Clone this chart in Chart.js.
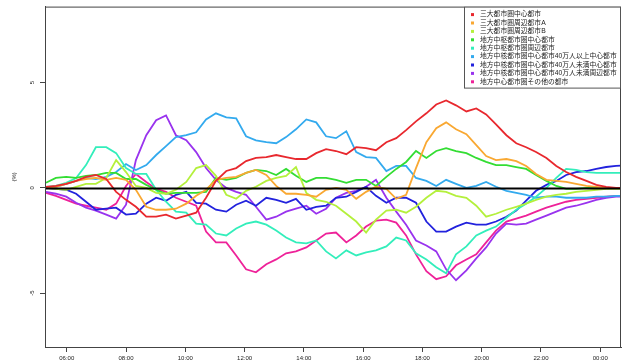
<!DOCTYPE html>
<html>
<head>
<meta charset="utf-8">
<script src="https://cdn.jsdelivr.net/npm/chart.js@4"></script>
<style>
  html, body { margin: 0; padding: 0; background: #fff; }
  #wrap { width: 625px; height: 362px; }
</style>
</head>
<body>
<div id="wrap"><canvas id="chart"></canvas></div>
<script>
const FONT = '"Liberation Sans", "Noto Sans CJK JP", sans-serif';

// sample times, minutes after 00:00
const times = [318, 338, 359, 379, 399, 419, 440, 460, 480, 500,
  521, 541, 561, 581, 602, 622, 642, 662, 683, 703,
  723, 743, 764, 784, 804, 824, 845, 865, 885, 905,
  926, 946, 966, 986, 1007, 1027, 1047, 1067, 1088, 1108,
  1128, 1148, 1169, 1189, 1209, 1229, 1250, 1270, 1290, 1310,
  1331, 1351, 1371, 1391, 1412, 1432, 1452, 1472, 1482];

const xTicks = [360, 480, 600, 720, 840, 960, 1080, 1200, 1320, 1440];
const xTickLabels = ['06:00', '08:00', '10:00', '12:00', '14:00', '16:00', '18:00', '20:00', '22:00', '00:00'];
const yTicks = [-5, 0, 5];
const yTickLabels = ['-5', '0', '5'];

const seriesNames = [
  '三大都市圏中心都市',
  '三大都市圏周辺都市A',
  '三大都市圏周辺都市B',
  '地方中枢都市圏中心都市',
  '地方中枢都市圏周辺都市',
  '地方中核都市圏中心都市40万人以上中心都市',
  '地方中核都市圏中心都市40万人未満中心都市',
  '地方中核都市圏中心都市40万人未満周辺都市',
  '地方中心都市圏その他の都市'
];
const seriesColors = ['#e8282e', '#f9a832', '#b4f03c', '#33dd33', '#33eebb', '#33aaee', '#2222dd', '#9933ee', '#ee2299'];

// values in %
const bigCore = [0.05, 0.09, 0.19, 0.33, 0.52, 0.61, 0.42, -0.19, -0.57, -0.90,
  -1.37, -1.37, -1.27, -1.46, -1.32, -1.18, -0.47, 0.33, 0.80, 0.94,
  1.27, 1.42, 1.46, 1.56, 1.46, 1.37, 1.37, 1.65, 1.84, 1.75,
  1.60, 1.93, 1.89, 1.79, 2.17, 2.36, 2.74, 3.16, 3.54, 3.96,
  4.15, 3.92, 3.63, 3.77, 3.49, 3.02, 2.50, 2.12, 1.93, 1.70,
  1.42, 1.04, 0.75, 0.52, 0.33, 0.14, 0.05, 0, 0];
const bigSubA = [0, 0.05, 0.19, 0.33, 0.42, 0.47, 0.38, 0.47, 0.38, -0.09,
  -0.90, -1.04, -1.04, -0.99, -0.75, -0.38, -0.09, 0.38, 0.47, 0.52,
  0.71, 0.85, 0.61, 0.09, -0.28, -0.28, -0.33, -0.42, -0.09, 0,
  -0.09, -0.52, -0.19, 0.05, -0.05, -0.52, -0.33, 0.94, 2.17, 2.83,
  3.11, 2.78, 2.55, 2.03, 1.51, 1.32, 1.37, 1.27, 1.04, 0.66,
  0.38, 0.33, 0.28, 0.19, 0.09, 0.05, 0, 0, 0];
const bigSubB = [0, -0.05, -0.09, 0.05, 0.19, 0.19, 0.47, 1.32, 0.75, 0.09,
  0, -0.24, -0.28, -0.09, 0.28, 0.94, 1.08, 0.57, -0.33, -0.52,
  -0.14, 0.05, 0.33, 0.47, 0.57, 0.99, -0.24, -0.57, -0.66, -0.85,
  -1.23, -1.60, -2.12, -1.51, -1.08, -1.04, -1.18, -0.90, -0.47, -0.14,
  -0.19, -0.38, -0.47, -0.85, -1.37, -1.23, -1.04, -0.90, -0.75, -0.57,
  -0.42, -0.33, -0.28, -0.19, -0.14, -0.09, -0.05, -0.05, -0.05];
const hubCore = [0.24, 0.47, 0.52, 0.47, 0.57, 0.61, 0.71, 0.71, 0.42, 0.42,
  0.14, -0.09, -0.28, -0.24, -0.24, -0.24, -0.19, 0.47, 0.38, 0.47,
  0.71, 0.85, 0.80, 0.61, 0.90, 0.57, 0.28, 0.47, 0.47, 0.38,
  0.24, 0.38, 0.38, 0.09, 0.52, 0.90, 1.23, 1.75, 1.42, 1.75,
  1.89, 1.75, 1.65, 1.42, 1.23, 1.08, 1.08, 0.99, 0.90, 0.61,
  0.33, 0.09, -0.05, -0.05, 0, 0, 0, 0, 0];
const hubSub = [0.05, 0.09, 0.24, 0.47, 1.08, 1.93, 1.93, 1.65, 0.94, 0.66,
  0.66, -0.09, -0.66, -1.13, -1.18, -1.70, -1.75, -2.17, -2.26, -1.93,
  -1.70, -1.60, -1.75, -2.03, -2.36, -2.59, -2.64, -2.50, -3.02, -3.35,
  -2.97, -3.21, -3.07, -2.97, -2.78, -2.36, -2.50, -3.11, -3.40, -3.77,
  -4.06, -3.16, -2.78, -2.26, -2.03, -1.84, -1.42, -1.04, -0.75, -0.42,
  0, 0.47, 0.90, 0.85, 0.75, 0.71, 0.71, 0.71, 0.71];
const midCoreLarge = [0, 0.05, 0.19, 0.33, 0.47, 0.42, 0.52, 0.75, 1.13, 0.85,
  1.08, 1.56, 1.98, 2.41, 2.50, 2.64, 3.25, 3.54, 3.35, 3.30,
  2.45, 2.26, 2.17, 2.12, 2.41, 2.78, 3.25, 3.11, 2.45, 2.36,
  2.69, 1.70, 1.46, 1.42, 0.80, 1.04, 1.04, 0.47, 0.33, 0.09,
  0.38, 0.19, 0, 0.09, 0.28, 0.05, -0.14, -0.24, -0.33, -0.47,
  -0.42, -0.42, -0.47, -0.47, -0.47, -0.42, -0.42, -0.38, -0.38];
const midCoreSmall = [0, -0.05, -0.09, -0.28, -0.66, -1.04, -0.99, -0.94, -1.27, -1.23,
  -0.75, -0.47, -0.61, -0.33, -0.19, -0.71, -0.75, -1.04, -1.13, -0.80,
  -0.61, -0.85, -0.47, -0.57, -0.71, -0.52, -1.04, -0.90, -0.85, -0.47,
  -0.42, -0.19, 0.05, -0.38, -0.71, -0.47, -0.47, -0.71, -1.60, -2.08,
  -2.08, -1.84, -1.65, -1.75, -1.75, -1.60, -1.37, -1.08, -0.61, -0.14,
  0.14, 0.33, 0.61, 0.75, 0.80, 0.90, 0.99, 1.04, 1.06];
const midSubSmall = [-0.19, -0.28, -0.42, -0.71, -0.94, -1.08, -1.27, -1.46, -0.80, 1.32,
  2.50, 3.21, 3.44, 2.50, 2.26, 1.70, 0.94, 0.38, 0, -0.19,
  -0.33, -0.90, -1.51, -1.37, -1.13, -0.99, -0.85, -1.23, -0.99, -0.47,
  -0.24, -0.14, 0.05, 0.38, -0.47, -1.13, -1.75, -2.50, -2.74, -3.02,
  -3.87, -4.39, -3.92, -3.35, -2.83, -2.17, -1.70, -1.75, -1.70, -1.51,
  -1.32, -1.13, -0.94, -0.85, -0.71, -0.57, -0.47, -0.42, -0.42];
const localOther = [-0.24, -0.38, -0.57, -0.75, -0.85, -0.94, -1.04, -0.75, 0.09, 0.66,
  0.28, -0.05, -0.19, -0.47, -0.66, -0.85, -2.08, -2.59, -2.59, -3.21,
  -3.87, -4.01, -3.63, -3.40, -3.11, -3.02, -2.83, -2.50, -2.17, -2.12,
  -2.59, -2.26, -1.84, -1.56, -1.51, -1.65, -2.26, -3.16, -3.96, -4.34,
  -4.20, -3.68, -3.40, -3.16, -2.59, -2.03, -1.60, -1.46, -1.32, -1.13,
  -0.94, -0.80, -0.66, -0.57, -0.52, -0.47, -0.42, -0.38, -0.38];

const seriesValues = [bigCore, bigSubA, bigSubB, hubCore, hubSub, midCoreLarge, midCoreSmall, midSubSmall, localOther];

// zero line, frame, rotated y labels and the boxed legend
const extras = {
  id: 'extras',
  afterDatasetsDraw(chart) {
    const { ctx, chartArea: a, scales: { y } } = chart;
    const y0 = Math.round(y.getPixelForValue(0)) + 0.5;
    ctx.save();
    ctx.strokeStyle = '#000';
    ctx.lineWidth = 2;
    ctx.beginPath();
    ctx.moveTo(a.left, y0);
    ctx.lineTo(a.right, y0);
    ctx.stroke();
    ctx.restore();
  },
  afterDraw(chart) {
    const { ctx, chartArea: a, scales: { y } } = chart;
    ctx.save();
    ctx.strokeStyle = '#444';
    ctx.lineWidth = 1;
    ctx.strokeRect(a.left + 0.5, a.top + 0.5, a.right - a.left - 1, a.bottom - a.top);

    // y tick labels, parallel to the axis
    ctx.fillStyle = '#222';
    ctx.font = '6px ' + FONT;
    ctx.textAlign = 'center';
    ctx.textBaseline = 'middle';
    yTicks.forEach((v, i) => {
      ctx.save();
      ctx.translate(32, y.getPixelForValue(v));
      ctx.rotate(-Math.PI / 2);
      ctx.fillText(yTickLabels[i], 0, 0);
      ctx.restore();
    });

    // legend
    const lx = 464, ly = a.top, lw = a.right - lx, lh = 81;
    ctx.fillStyle = '#fff';
    ctx.fillRect(lx, ly, lw, lh);
    ctx.strokeStyle = '#555';
    ctx.strokeRect(lx + 0.5, ly + 0.5, lw - 1, lh);
    ctx.font = '6.8px ' + FONT;
    ctx.textAlign = 'left';
    ctx.textBaseline = 'middle';
    chart.data.datasets.forEach((ds, i) => {
      const cy = ly + 8 + i * 8.4;
      ctx.fillStyle = ds.borderColor;
      ctx.fillRect(471, cy - 1.5, 3, 3);
      ctx.fillStyle = '#222';
      ctx.fillText(ds.label, 480, cy);
    });
    ctx.restore();
  }
};

const ctx = document.getElementById('chart').getContext('2d');
const chart = new Chart(ctx, {
  type: 'line',
  data: {
    datasets: seriesNames.map((name, k) => ({
      label: name,
      data: times.map((t, i) => ({ x: t, y: seriesValues[k][i] })),
      borderColor: seriesColors[k],
      backgroundColor: seriesColors[k],
      borderWidth: 1.8,
      pointRadius: 0,
      tension: 0,
      fill: false
    }))
  },
  options: {
    responsive: true,
    maintainAspectRatio: false,
    animation: false,
    layout: { padding: { top: 6, right: 4, left: 0, bottom: 0 } },
    plugins: { legend: { display: false }, tooltip: { enabled: false } },
    scales: {
      x: {
        type: 'linear',
        min: 316,
        max: 1482,
        afterBuildTicks: s => { s.ticks = xTicks.map(v => ({ value: v })); },
        afterFit: s => { s.height = 15; },
        grid: { drawOnChartArea: false, drawTicks: true, tickLength: 5, color: '#444' },
        border: { display: true, color: '#444' },
        ticks: {
          autoSkip: false, maxRotation: 0, padding: 3, color: '#222',
          font: { size: 6, family: FONT },
          callback: v => xTickLabels[xTicks.indexOf(v)]
        }
      },
      y: {
        min: -7.56,
        max: 8.61,
        afterBuildTicks: s => { s.ticks = yTicks.map(v => ({ value: v })); },
        afterFit: s => { s.width = 45; },
        grid: { drawOnChartArea: false, drawTicks: true, tickLength: 5, color: '#444' },
        border: { display: true, color: '#444' },
        ticks: { color: 'rgba(0,0,0,0)', font: { size: 6, family: FONT } },
        title: { display: true, text: '(%)', color: '#222', font: { size: 6, family: FONT }, padding: { top: 11, bottom: 0 } }
      }
    }
  },
  plugins: [extras]
});
</script>
</body>
</html>
